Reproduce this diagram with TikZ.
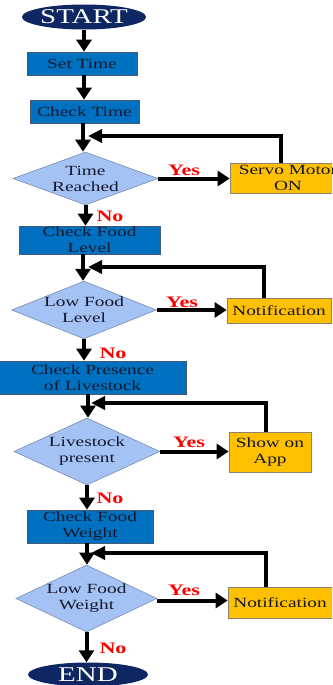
\documentclass[tikz,border=0pt]{standalone}
\usepackage{fontspec}
\setmainfont{Liberation Serif}[FakeStretch=1.38]
\usetikzlibrary{shapes.geometric,arrows.meta}
\definecolor{navy}{RGB}{14,38,98}
\definecolor{boxblue}{RGB}{0,112,192}
\definecolor{boxedge}{RGB}{70,90,120}
\definecolor{dia}{RGB}{164,194,244}
\definecolor{diaedge}{RGB}{120,140,175}
\definecolor{orangebox}{RGB}{255,192,0}
\definecolor{orangeedge}{RGB}{140,130,110}
\definecolor{darktext}{RGB}{20,25,45}
\begin{document}
\begin{tikzpicture}[x=1pt,y=-1pt,
  term/.style={ellipse, fill=navy, text=white, inner sep=0pt, font=\fontsize{21}{21}\selectfont},
  procbox/.style={rectangle, fill=boxblue, draw=boxedge, line width=0.6pt, inner sep=0pt, align=center, text=darktext, font=\fontsize{14}{16}\selectfont},
  dec/.style={diamond, fill=dia, draw=diaedge, line width=0.6pt, inner sep=0pt, align=center, text=darktext, font=\fontsize{14}{16}\selectfont},
  outbox/.style={rectangle, fill=orangebox, draw=orangeedge, line width=0.6pt, inner sep=0pt, align=center, text=darktext, font=\fontsize{14}{16}\selectfont},
  flow/.style={line width=4pt, -{Triangle[width=15pt,length=12pt]}},
  loopline/.style={line width=4pt, -{Triangle[width=13pt,length=14pt]}},
  yeslbl/.style={text=red, inner sep=0pt, font=\bfseries\fontsize{16}{16}\selectfont},
]
\useasboundingbox (0,0) rectangle (332,685);
\clip (0,0) rectangle (332,685);

% terminals and process boxes
\node[term, minimum width=121pt, minimum height=25pt] (start) at (84,17) {START};
\node[procbox, minimum width=110pt, minimum height=23pt] (settime) at (82,63.5) {Set Time};
\node[procbox, minimum width=109pt, minimum height=23pt] (checktime) at (84.5,111.5) {Check Time};
\node[dec, minimum width=145pt, minimum height=53pt, aspect=2.7] (d1) at (85.5,178.5) {Time\\Reached};
\node[outbox, minimum width=116pt, minimum height=30pt] (servo) at (288,178) {Servo Motor\\ON};

\node[procbox, minimum width=141pt, minimum height=28pt] (cfl) at (89.5,240) {Check Food\\Level};
\node[dec, minimum width=142pt, minimum height=56pt, aspect=2.5] (d2) at (84,310) {Low Food\\Level};
\node[outbox, minimum width=104pt, minimum height=25pt] (notif1) at (279,310.5) {Notification};

\node[procbox, minimum width=187pt, minimum height=33pt] (cpl) at (92.5,377.5) {Check Presence\\of Livestock};
\node[dec, minimum width=146pt, minimum height=67pt, aspect=2.2] (d3) at (87,451.5) {Livestock\\present};
\node[outbox, minimum width=82pt, minimum height=40pt] (showapp) at (270,452) {Show on\\App};

\node[procbox, minimum width=126pt, minimum height=33pt] (cfw) at (90,526.5) {Check Food\\Weight};
\node[dec, minimum width=141pt, minimum height=67pt, aspect=2.1] (d4) at (86.5,598.5) {Low Food\\Weight};
\node[outbox, minimum width=104pt, minimum height=31pt] (notif2) at (280,602.5) {Notification};

\node[term, minimum width=120pt, minimum height=24pt] (end) at (88,674.5) {END};

% labels
\node[yeslbl] (yes1) at (184,170) {Yes};
\node[yeslbl] (no1) at (110,216) {No};
\node[yeslbl] (yes2) at (182,302) {Yes};
\node[yeslbl] (no2) at (113,353) {No};
\node[yeslbl] (yes3) at (189,442) {Yes};
\node[yeslbl] (no3) at (110,498) {No};
\node[yeslbl] (yes4) at (184,590) {Yes};
\node[yeslbl] (no4) at (113,648) {No};

% loop junctions
\coordinate (j1) at (88,136);
\coordinate (j2) at (88,267);
\coordinate (j3) at (91,403);
\coordinate (j4) at (91,553);

% main flow
\draw[flow] (start.south) -- (start.south |- settime.north);
\draw[flow] (settime.south -| start.south) -- (start.south |- checktime.north);
\draw[flow] (checktime.south -| 83,0) -- (83,0 |- d1.north);
\draw[flow] (d1.south) -- (d1.south |- cfl.north);
\draw[flow] (cfl.south -| 83,0) -- (83,0 |- d2.north);
\draw[flow] (d2.south) -- (d2.south |- cpl.north);
\draw[flow] (cpl.south -| 88,0) -- (88,0 |- d3.north);
\draw[flow] (d3.south) -- (d3.south |- cfw.north);
\draw[flow] (cfw.south -| 87,0) -- (87,0 |- d4.north);
\draw[flow] (d4.south) -- (d4.south |- end.north);

% yes branches
\draw[flow] (d1.east) -- (d1.east -| servo.west);
\draw[flow] (d2.east) -- (d2.east -| notif1.west);
\draw[flow] (d3.east) -- (d3.east -| showapp.west);
\draw[flow] ([yshift=-2pt]d4.east) -- ([yshift=-2pt]d4.east -| notif2.west);

% loops back
\draw[loopline] (servo.north -| 281,0) |- (j1);
\draw[loopline] (notif1.north -| 264,0) |- (j2);
\draw[loopline] (showapp.north -| 266,0) |- (j3);
\draw[loopline] (notif2.north -| 266,0) |- (j4);
\end{tikzpicture}
\end{document}
